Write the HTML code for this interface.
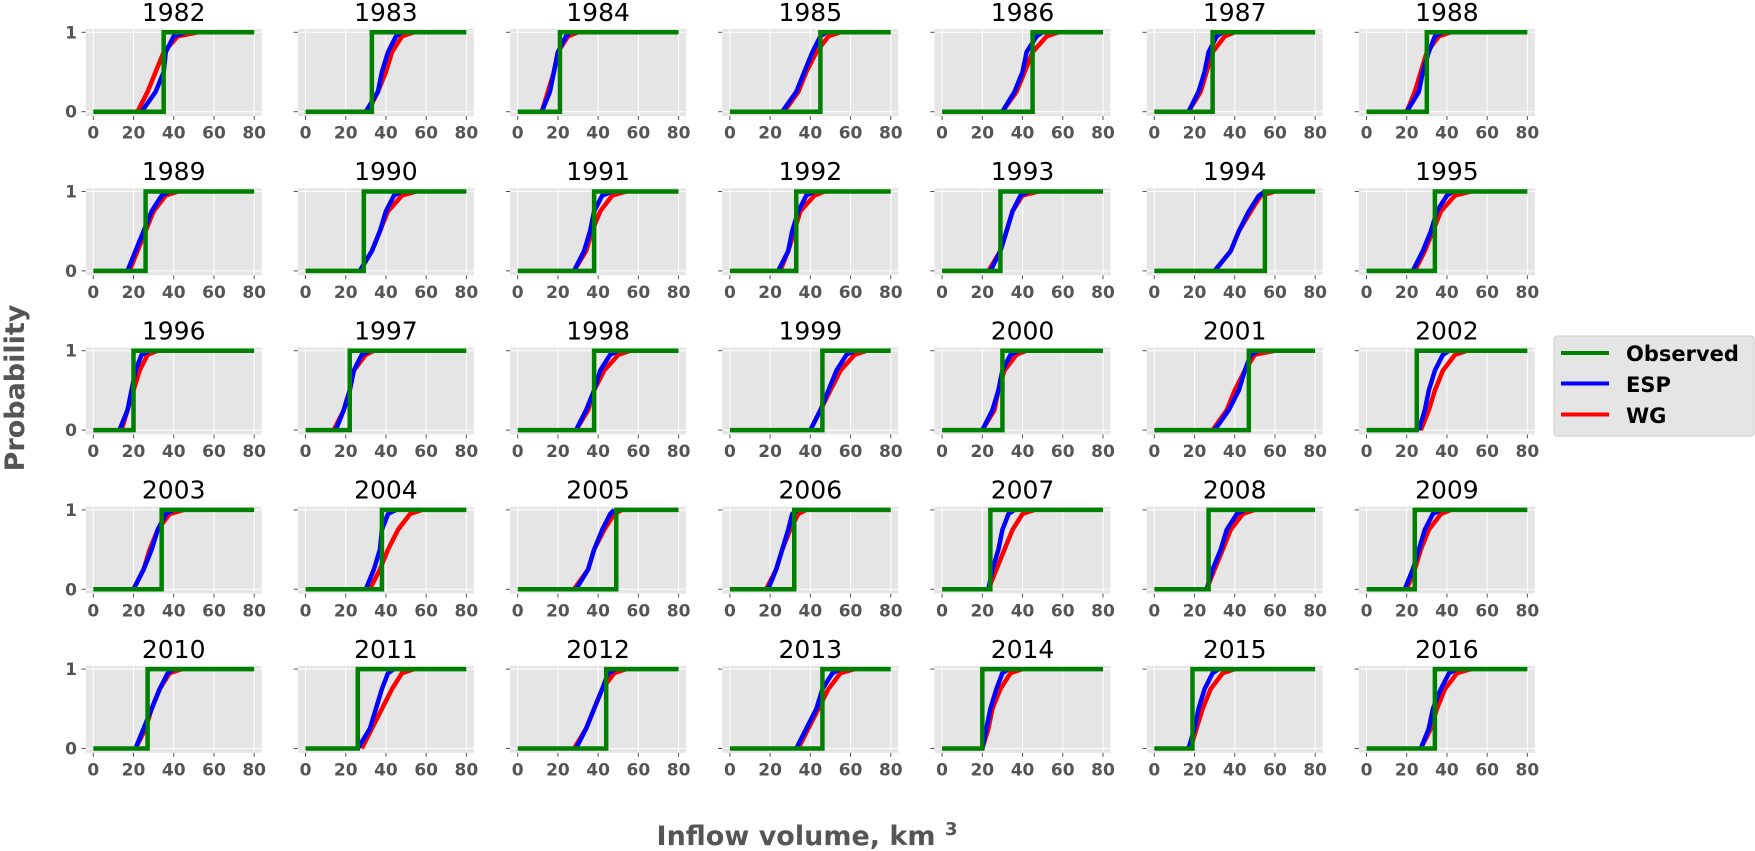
<!DOCTYPE html>
<html><head><meta charset="utf-8"><style>
html,body{margin:0;padding:0;background:#fff;}
svg{display:block;font-family:"Liberation Sans","DejaVu Sans",sans-serif;}
</style></head><body>
<svg id="chart" width="1755" height="851" viewBox="0 0 1755 851" xmlns="http://www.w3.org/2000/svg">
<g id="panels"></g>
<text x="0" y="0" transform="translate(24,388) rotate(-90)" text-anchor="middle" font-size="27" font-weight="bold" fill="#555" font-family="DejaVu Sans, sans-serif">Probability</text>
<text x="807" y="845" text-anchor="middle" font-size="27" font-weight="bold" fill="#555" font-family="DejaVu Sans, sans-serif">Inflow volume, km <tspan dy="-10" font-size="18">3</tspan></text>
<g>
<rect x="1554" y="336" width="200" height="100" rx="3" fill="#e5e5e5" stroke="#ccc" stroke-width="1"/>
<line x1="1561" y1="353" x2="1609" y2="353" stroke="#008000" stroke-width="4"/>
<text x="1626" y="361" font-size="21" font-weight="bold" font-family="DejaVu Sans, sans-serif">Observed</text>
<line x1="1561" y1="383.5" x2="1609" y2="383.5" stroke="#0000ff" stroke-width="4"/>
<text x="1626" y="392" font-size="21" font-weight="bold" font-family="DejaVu Sans, sans-serif">ESP</text>
<line x1="1561" y1="414.5" x2="1609" y2="414.5" stroke="#ff0000" stroke-width="4"/>
<text x="1626" y="423" font-size="21" font-weight="bold" font-family="DejaVu Sans, sans-serif">WG</text>
</g>
</svg>
<script>
const years = [1982,1983,1984,1985,1986,1987,1988,1989,1990,1991,1992,1993,1994,1995,1996,1997,1998,1999,2000,2001,2002,2003,2004,2005,2006,2007,2008,2009,2010,2011,2012,2013,2014,2015,2016];
const observed = [35,33,21,45,45,29,30,26,29,38,33,29,55,34,20,22,38,46,30,47,25,34,38,49,32,24,27,24,27,26,44,46,20,19,34];
const quantileProbs = [0,0.25,0.5,0.75,0.95,1];
const espQuantiles = [
[24,31,35,36,40,46],[30,36,38,41,45,48],[12,16,18,20,24,26],[26,33,37,41,45,48],[30,36,40,42,47,50],[17,22,25,27,31,34],[20,26,28,31,34,38],
[17,21,25,29,34,38],[27,33,37,40,44,48],[28,33,36,38,42,47],[24,29,31,34,38,42],[24,29,32,35,39,43],[30,38,42,47,52,55],[23,28,32,35,40,43],
[13,17,19,21,24,28],[15,19,22,24,28,32],[29,34,38,41,46,50],[40,45,49,53,58,62],[20,25,28,30,34,38],[30,37,42,45,48,52],[26,29,31,34,38,41],
[20,25,29,32,36,40],[30,34,37,38,41,45],[29,35,38,42,46,48],[19,23,26,29,31,34],[23,25,28,30,33,36],[26,29,33,36,41,45],[19,23,26,29,33,37],
[21,25,29,33,37,40],[26,32,35,38,41,44],[29,34,38,42,45,49],[33,38,43,46,51,55],[20,22,24,27,30,33],[17,20,22,25,29,32],[27,31,33,37,41,45]];
const wgQuantiles = [
[22,27,31,35,42,52],[31,36,40,43,48,54],[12,15,18,20,25,30],[27,34,38,43,49,55],[30,37,41,45,52,58],[17,23,26,29,35,40],[20,24,27,30,36,42],
[18,22,26,30,36,42],[27,33,37,41,48,55],[28,34,37,41,47,54],[25,29,32,35,42,47],[23,29,32,35,40,48],[30,38,42,48,53,60],[24,29,33,37,44,52],
[14,17,20,23,27,32],[14,19,22,24,30,34],[29,35,38,43,50,56],[40,45,50,55,62,68],[20,26,28,31,37,42],[29,36,40,45,50,60],[27,31,34,38,44,50],
[20,25,28,32,38,45],[32,37,41,46,52,58],[28,35,38,43,48,52],[18,23,26,30,34,38],[23,27,31,35,40,46],[26,30,34,38,44,50],[20,24,27,31,37,42],
[21,26,29,33,38,44],[28,33,38,43,48,54],[28,34,38,42,48,54],[34,39,44,49,55,62],[20,23,25,29,34,40],[18,21,24,28,34,40],[27,32,35,39,45,52]];
const xTicks = [0,20,40,60,80];
const yTicks = [0,1];

const NS = "http://www.w3.org/2000/svg";
const root = document.getElementById('panels');
const COLP = 212.2, ROWP = 159.2;
function mk(tag, attrs, parent){const e=document.createElementNS(NS,tag);for(const k in attrs)e.setAttribute(k,attrs[k]);parent.appendChild(e);return e;}
function xScale(c,v){return 93.3 + c*COLP + v*2.011;}
function yScale(r,p){return 111.7 + r*ROWP - p*79.4;}

years.forEach((yr,i)=>{
  const c=i%7, r=Math.floor(i/7);
  const g=mk('g',{},root);
  
  
  const bg=mk('rect',{x:85.7+c*COLP,y:29+r*ROWP,width:176,height:87,fill:'#e5e5e5'},g);
  
  
  xTicks.forEach(t=>{
    const x=xScale(c,t);
    const gl=mk('line',{x1:x,x2:x,y1:29+r*ROWP,y2:116+r*ROWP,stroke:'#fff','stroke-width':1},g);
    
    
    mk('line',{x1:x,x2:x,y1:116+r*ROWP,y2:120+r*ROWP,stroke:'#555','stroke-width':1},g);
    const tl=mk('text',{x:x,y:yScale(r,0)+27,'text-anchor':'middle','font-size':17,'font-weight':'bold',fill:'#555','font-family':'DejaVu Sans, sans-serif'},g);
    tl.textContent=t;
    
    
  });
  yTicks.forEach(t=>{
    const y=yScale(r,t);
    const gl=mk('line',{x1:85.7+c*COLP,x2:261.7+c*COLP,y1:y,y2:y,stroke:'#fff','stroke-width':1},g);
    
    
    mk('line',{x1:81.5+c*COLP,x2:85.7+c*COLP,y1:y,y2:y,stroke:'#555','stroke-width':1},g);
    if(c===0){
      const tl=mk('text',{x:77,y:y+6,'text-anchor':'end','font-size':17,'font-weight':'bold',fill:'#555','font-family':'DejaVu Sans, sans-serif'},g);
      tl.textContent=t;
      
      
    }
  });
  const ttl=mk('text',{x:173.7+c*COLP,y:21+r*ROWP,'text-anchor':'middle','font-size':25,fill:'#000','font-family':'DejaVu Sans, sans-serif'},g);
  ttl.textContent=yr;
  
  
  function cdfPath(q){return q.map((v,k)=>(k?'L':'M')+xScale(c,v).toFixed(1)+','+yScale(r,quantileProbs[k]).toFixed(1)).join(' ');}
  const wg=mk('path',{d:cdfPath(wgQuantiles[i]),fill:'none',stroke:'#ff0000','stroke-width':4.5,'stroke-linejoin':'round'},g);
  
  
  const esp=mk('path',{d:cdfPath(espQuantiles[i]),fill:'none',stroke:'#0000ff','stroke-width':4.5,'stroke-linejoin':'round'},g);
  
  
  const ox=xScale(c,observed[i]);
  const obs=mk('path',{d:'M'+xScale(c,0)+','+yScale(r,0)+' L'+ox+','+yScale(r,0)+' L'+ox+','+yScale(r,1)+' L'+xScale(c,80)+','+yScale(r,1),fill:'none',stroke:'#008000','stroke-width':4.5},g);
  
  
});
</script>
</body></html>
